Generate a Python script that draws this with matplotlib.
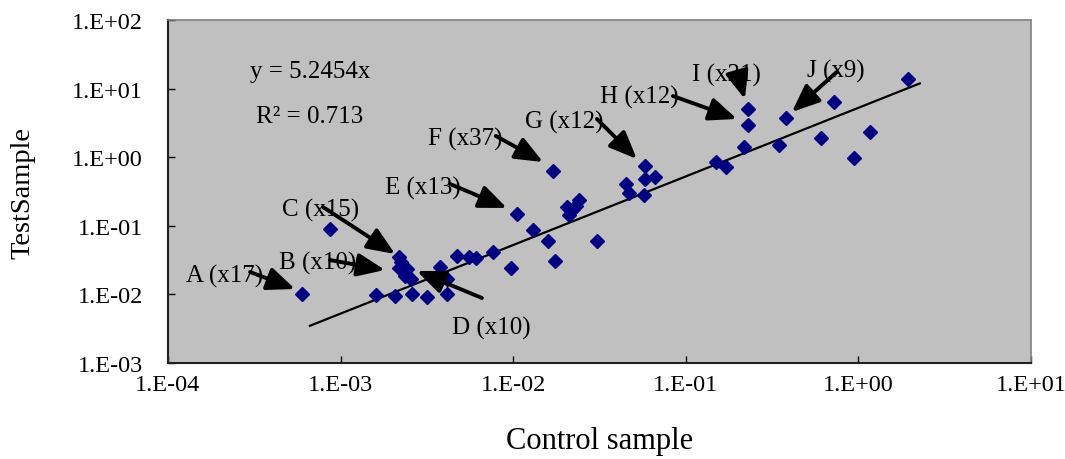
import matplotlib

matplotlib.use("Agg")
import matplotlib.pyplot as plt
from matplotlib.ticker import FixedLocator, NullLocator

plt.rcParams["font.family"] = ["Liberation Serif", "DejaVu Serif"]

# control / test expression values
control = [6.0e-4, 8.65e-4, 1.60e-3, 2.07e-3, 2.19e-3, 2.23e-3, 2.19e-3, 2.42e-3, 2.36e-3, 2.55e-3,
           2.59e-3, 3.17e-3, 3.75e-3, 3.73e-3, 4.15e-3, 4.15e-3, 4.74e-3, 5.57e-3, 6.09e-3, 7.67e-3,
           9.67e-3, 1.05e-2, 1.30e-2, 1.59e-2, 1.74e-2, 1.70e-2, 2.04e-2, 2.12e-2, 2.23e-2, 2.32e-2,
           2.42e-2, 3.07e-2, 4.51e-2, 4.68e-2, 5.72e-2, 5.78e-2, 5.78e-2, 6.67e-2, 0.150, 0.171,
           0.217, 0.229, 0.229, 0.345, 0.381, 0.606, 0.726, 0.948, 1.17, 1.94]
test = [0.0100, 0.0898, 0.0098, 0.0094, 0.0347, 0.0294, 0.0240, 0.0235, 0.0184, 0.0168,
        0.0102, 0.0091, 0.0248, 0.0158, 0.0168, 0.0101, 0.0359, 0.0350, 0.0343, 0.0411,
        0.0240, 0.147, 0.086, 0.0594, 0.0303, 0.636, 0.186, 0.144, 0.176, 0.196,
        0.240, 0.0600, 0.407, 0.301, 0.284, 0.481, 0.736, 0.509, 0.843, 0.713,
        1.42, 2.94, 5.04, 1.51, 3.69, 1.92, 6.31, 0.973, 2.36, 13.8]

slope = 5.2454
fit_x = [6.65e-4, 2.27]

x_ticks = [1e-4, 1e-3, 1e-2, 1e-1, 1e0, 1e1]
x_tick_labels = ["1.E-04", "1.E-03", "1.E-02", "1.E-01", "1.E+00", "1.E+01"]
y_ticks = [1e-3, 1e-2, 1e-1, 1e0, 1e1, 1e2]
y_tick_labels = ["1.E-03", "1.E-02", "1.E-01", "1.E+00", "1.E+01", "1.E+02"]

# label, text position, arrow tail, arrow head
labels = ["A (x17)", "B (x10)", "C (x15)", "D (x10)", "E (x13)",
          "F (x37)", "G (x12)", "H (x12)", "I (x21)", "J (x9)"]
label_pos = [(2.14e-4, 0.0192), (7.40e-4, 0.0297), (7.70e-4, 0.176), (7.43e-3, 3.35e-3), (3.0e-3, 0.368),
             (5.26e-3, 1.90), (0.0197, 3.37), (0.0536, 7.80), (0.173, 16.3), (0.745, 18.7)]
arrow_tail = [(2.99e-4, 0.0212), (8.68e-4, 0.0317), (7.91e-4, 0.188), (6.59e-3, 8.87e-3), (4.31e-3, 0.407),
              (7.94e-3, 2.04), (0.0306, 3.61), (0.0843, 7.80), (0.200, 16.3), (0.751, 17.5)]
arrow_head = [(5.45e-4, 0.0120), (1.81e-3, 0.0227), (2.07e-3, 0.0388), (2.77e-3, 0.0219), (9.2e-3, 0.182),
              (0.0149, 0.851), (0.0521, 0.942), (0.198, 3.61), (0.220, 7.05), (0.412, 4.56)]

fig = plt.figure(figsize=(10.65, 4.6), dpi=100)
ax = fig.add_axes([0.1577, 0.2087, 0.968 - 0.1577, 0.9543 - 0.2087])
ax.set_facecolor("#c0c0c0")
ax.set_xscale("log")
ax.set_yscale("log")
ax.set_xlim(1e-4, 1e1)
ax.set_ylim(1e-3, 1e2)

ax.plot(control, test, linestyle="none", marker="D", markersize=7.5,
        color="#000080", markeredgecolor="#000080", zorder=3)
ax.plot(fit_x, [slope * v for v in fit_x], color="black", linewidth=1.6, zorder=2)

for text, pos, tail, head in zip(labels, label_pos, arrow_tail, arrow_head):
    ax.text(pos[0], pos[1], text, fontsize=18, ha="center", va="center", zorder=4)
    ax.annotate("", xy=head, xytext=tail,
                arrowprops=dict(arrowstyle="-|>,head_length=1.2,head_width=0.5",
                                color="black", lw=2.8, shrinkA=0, shrinkB=0,
                                mutation_scale=14),
                zorder=5)

ax.text(6.65e-4, 18.1, "y = 5.2454x", fontsize=18, ha="center", va="center")
ax.text(6.65e-4, 3.99, "R² = 0.713", fontsize=18, ha="center", va="center")

ax.xaxis.set_major_locator(FixedLocator(x_ticks))
ax.yaxis.set_major_locator(FixedLocator(y_ticks))
ax.xaxis.set_minor_locator(NullLocator())
ax.yaxis.set_minor_locator(NullLocator())
ax.set_xticklabels(x_tick_labels)
ax.set_yticklabels(y_tick_labels)
ax.tick_params(axis="both", direction="in", length=5, width=1, labelsize=17.5)
ax.tick_params(axis="x", pad=8, top=False)
ax.tick_params(axis="y", pad=18, right=False)

for side in ["left", "bottom"]:
    ax.spines[side].set_color("#202020")
    ax.spines[side].set_linewidth(1.5)
for side in ["top", "right"]:
    ax.spines[side].set_color("#808080")
    ax.spines[side].set_linewidth(1.2)

ax.set_xlabel("Control sample", fontsize=22, labelpad=22)
ax.set_ylabel("TestSample", fontsize=20.5, labelpad=26)

fig.savefig("out.png", dpi=100)
